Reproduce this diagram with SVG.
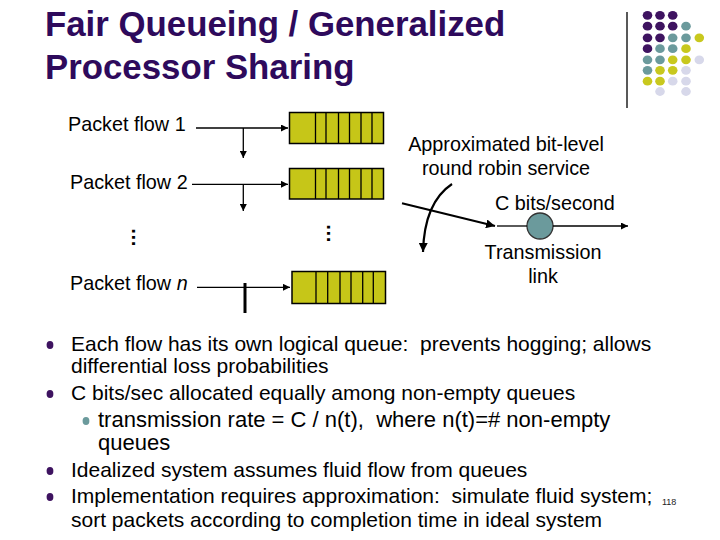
<svg xmlns="http://www.w3.org/2000/svg" width="720" height="540" viewBox="0 0 720 540">
<style>
.title{font-family:"Liberation Sans",Arial,sans-serif;font-weight:bold;font-size:34.8px;fill:#2E0A5C}
.lbl{font-family:"Liberation Sans",Arial,sans-serif;font-size:19.8px;fill:#000}
.bt{font-family:"Liberation Sans",Arial,sans-serif;font-size:21px;fill:#000;white-space:pre}
.bt2{font-family:"Liberation Sans",Arial,sans-serif;font-size:22px;fill:#000;white-space:pre}
.q{fill:#C6C618;stroke:#000;stroke-width:1.5}
.dv{stroke:#000;stroke-width:1.3}
.ln{stroke:#000;stroke-width:1.3;fill:none}
.thick{stroke:#000;stroke-width:2.2;fill:none}
.P{fill:#3E1360}.T{fill:#6B9A9C}.Y{fill:#C8C81E}.L{fill:#D7D8EA}
.bp{fill:#3E1360}.bs{fill:#6B9A9C}
</style>
<defs>
<marker id="ah" viewBox="0 0 10 10" refX="10" refY="5" markerWidth="7" markerHeight="7" markerUnits="userSpaceOnUse" orient="auto">
<path d="M0,0 L10,5 L0,10 z" fill="#000"/>
</marker>
<marker id="ah2" viewBox="0 0 10 10" refX="10" refY="5" markerWidth="9" markerHeight="9" markerUnits="userSpaceOnUse" orient="auto">
<path d="M0,0 L10,5 L0,10 z" fill="#000"/>
</marker>
</defs>
<rect width="720" height="540" fill="#fff"/>

<g id="title">
<text class="title" x="45" y="36">Fair Queueing / Generalized</text>
<text class="title" x="45" y="79">Processor Sharing</text>
</g>

<g id="decoration">
<line x1="627" y1="12" x2="627" y2="108" stroke="#222" stroke-width="1.5"/>
<g>
<ellipse class="P" cx="647.5" cy="15.3" rx="4.8" ry="4.4"/><ellipse class="P" cx="660" cy="15.3" rx="4.8" ry="4.4"/><ellipse class="P" cx="672.7" cy="15.3" rx="4.8" ry="4.4"/>
<ellipse class="P" cx="647.5" cy="26.2" rx="4.8" ry="4.4"/><ellipse class="P" cx="660" cy="26.2" rx="4.8" ry="4.4"/><ellipse class="P" cx="672.7" cy="26.2" rx="4.8" ry="4.4"/><ellipse class="T" cx="686" cy="26.2" rx="4.8" ry="4.4"/>
<ellipse class="P" cx="647.5" cy="37.8" rx="4.8" ry="4.4"/><ellipse class="P" cx="660" cy="37.8" rx="4.8" ry="4.4"/><ellipse class="T" cx="672.7" cy="37.8" rx="4.8" ry="4.4"/><ellipse class="T" cx="686" cy="37.8" rx="4.8" ry="4.4"/><ellipse class="Y" cx="699.3" cy="37.8" rx="4.8" ry="4.4"/>
<ellipse class="P" cx="647.5" cy="48.7" rx="4.8" ry="4.4"/><ellipse class="T" cx="660" cy="48.7" rx="4.8" ry="4.4"/><ellipse class="T" cx="672.7" cy="48.7" rx="4.8" ry="4.4"/><ellipse class="Y" cx="686" cy="48.7" rx="4.8" ry="4.4"/>
<ellipse class="T" cx="647.5" cy="59.8" rx="4.8" ry="4.4"/><ellipse class="T" cx="660" cy="59.8" rx="4.8" ry="4.4"/><ellipse class="Y" cx="672.7" cy="59.8" rx="4.8" ry="4.4"/><ellipse class="Y" cx="686" cy="59.8" rx="4.8" ry="4.4"/><ellipse class="L" cx="699.3" cy="59.8" rx="4.8" ry="4.4"/>
<ellipse class="T" cx="647.5" cy="70.3" rx="4.8" ry="4.4"/><ellipse class="Y" cx="660" cy="70.3" rx="4.8" ry="4.4"/><ellipse class="Y" cx="672.7" cy="70.3" rx="4.8" ry="4.4"/><ellipse class="L" cx="686" cy="70.3" rx="4.8" ry="4.4"/>
<ellipse class="Y" cx="647.5" cy="81.2" rx="4.8" ry="4.4"/><ellipse class="Y" cx="660" cy="81.2" rx="4.8" ry="4.4"/><ellipse class="L" cx="672.7" cy="81.2" rx="4.8" ry="4.4"/><ellipse class="L" cx="686" cy="81.2" rx="4.8" ry="4.4"/>
<ellipse class="L" cx="660" cy="91.5" rx="4.8" ry="4.4"/><ellipse class="L" cx="686" cy="91.5" rx="4.8" ry="4.4"/>
</g>
</g>

<g id="flow1-label"><text class="lbl" x="68" y="131">Packet flow 1</text></g>
<g id="flow2-label"><text class="lbl" x="70" y="189">Packet flow 2</text></g>
<g id="flown-label"><text class="lbl" x="70" y="290">Packet flow <tspan font-style="italic">n</tspan></text></g>

<g id="queue1">
<rect class="q" x="289.5" y="112.5" width="94" height="31"/>
<path class="dv" d="M315.5,112.5V143.5M326,112.5V143.5M338.5,112.5V143.5M349.5,112.5V143.5M361,112.5V143.5M372,112.5V143.5"/>
</g>
<g id="queue2">
<rect class="q" x="289.5" y="168.5" width="94" height="30.5"/>
<path class="dv" d="M315.5,168.5V199M326,168.5V199M338.5,168.5V199M349.5,168.5V199M361,168.5V199M372,168.5V199"/>
</g>
<g id="queuen">
<rect class="q" x="292" y="271.5" width="93.5" height="32"/>
<path class="dv" d="M316,271.5V303.5M327.7,271.5V303.5M340,271.5V303.5M351,271.5V303.5M362.7,271.5V303.5M373.3,271.5V303.5"/>
</g>

<g id="ellipsis-left"><text class="lbl" font-weight="bold" x="131.5" y="237.5" text-anchor="middle" transform="rotate(90 131.5 237.5)">…</text></g>
<g id="ellipsis-right"><text class="lbl" font-weight="bold" x="326.5" y="233.5" text-anchor="middle" transform="rotate(90 326.5 233.5)">…</text></g>

<g id="service-label">
<text class="lbl" x="506" y="151" text-anchor="middle">Approximated bit-level</text>
<text class="lbl" x="506" y="175" text-anchor="middle">round robin service</text>
</g>
<g id="rate-label"><text class="lbl" x="495" y="210">C bits/second</text></g>
<g id="link">
<circle cx="540" cy="226" r="13" fill="#6B9A9C" stroke="#333" stroke-width="1.3"/>
<text class="lbl" x="543" y="259" text-anchor="middle">Transmission</text>
<text class="lbl" x="543" y="283" text-anchor="middle">link</text>
</g>

<g id="connectors">
<line class="ln" x1="196" y1="128" x2="288" y2="128" marker-end="url(#ah)"/>
<line class="ln" x1="243.3" y1="128" x2="243.3" y2="158" marker-end="url(#ah)"/>
<line class="ln" x1="192" y1="184.3" x2="288" y2="184.3" marker-end="url(#ah)"/>
<line class="ln" x1="243.3" y1="184.3" x2="243.3" y2="211" marker-end="url(#ah)"/>
<line class="ln" x1="197" y1="287.3" x2="290" y2="287.3" marker-end="url(#ah)"/>
<line x1="245" y1="283" x2="245" y2="313" stroke="#000" stroke-width="3"/>
<path class="thick" d="M452,184 C437,194 424,214 423,252" marker-end="url(#ah2)"/>
<line class="thick" x1="402" y1="203.3" x2="495" y2="226" marker-end="url(#ah2)"/>
<line class="ln" x1="497" y1="226" x2="527" y2="226"/>
<line class="ln" x1="553" y1="226" x2="628" y2="226" marker-end="url(#ah)"/>
</g>

<g id="bullets">
<ellipse class="bp" cx="50" cy="345" rx="3.4" ry="3.9"/>
<ellipse class="bp" cx="50" cy="394" rx="3.4" ry="3.9"/>
<ellipse class="bs" cx="86" cy="421" rx="3.4" ry="3.9"/>
<ellipse class="bp" cx="50" cy="471" rx="3.4" ry="3.9"/>
<ellipse class="bp" cx="50" cy="497" rx="3.4" ry="3.9"/>
<text class="bt" x="71" y="351">Each flow has its own logical queue:  prevents hogging; allows</text>
<text class="bt" x="71" y="373">differential loss probabilities</text>
<text class="bt" x="71" y="400">C bits/sec allocated equally among non-empty queues</text>
<text class="bt2" x="98" y="426.5">transmission rate = C / n(t),  where n(t)=# non-empty</text>
<text class="bt2" x="98" y="450">queues</text>
<text class="bt" x="71" y="477">Idealized system assumes fluid flow from queues</text>
<text class="bt" x="71" y="503">Implementation requires approximation:  simulate fluid system;</text>
<text class="bt" x="71" y="527">sort packets according to completion time in ideal system</text>
<text font-family="Liberation Sans,Arial,sans-serif" font-size="9" x="662" y="505" fill="#222">118</text>
</g>
</svg>
